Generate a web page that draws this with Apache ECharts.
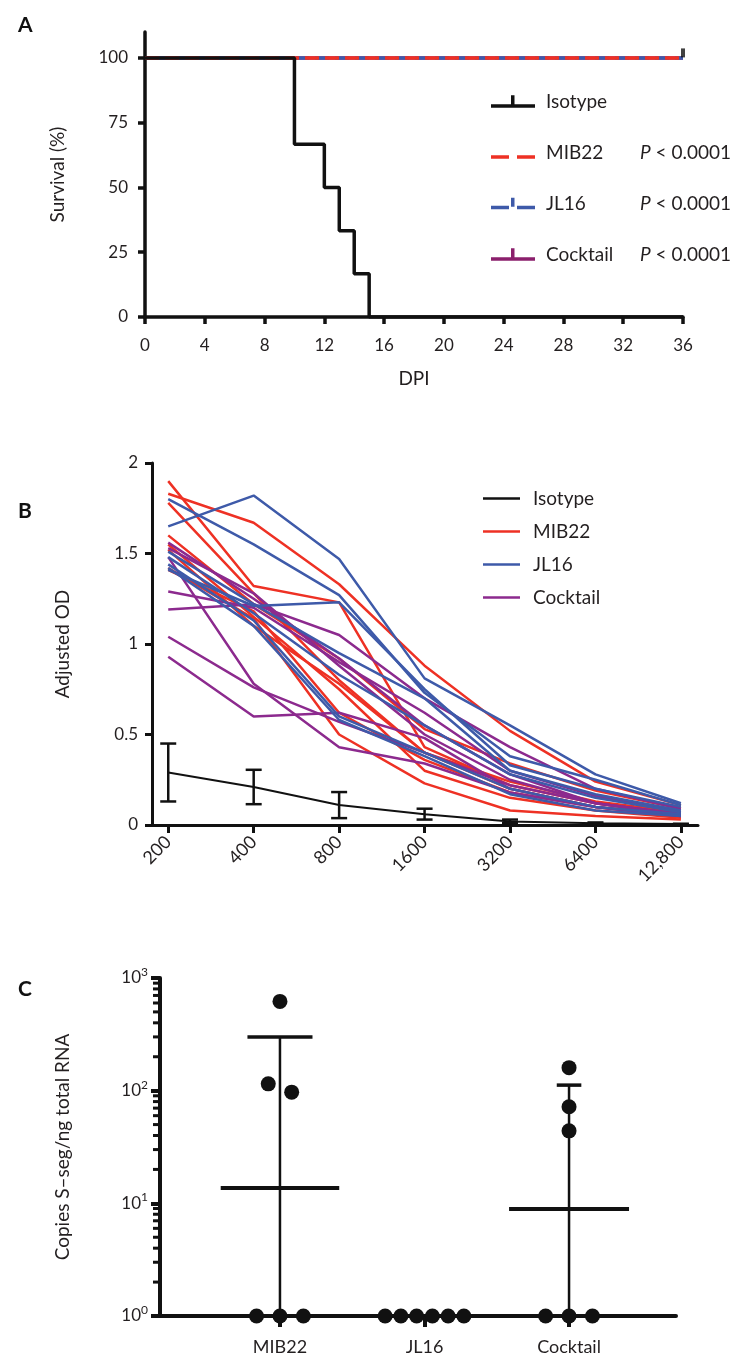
<!DOCTYPE html>
<html><head><meta charset="utf-8">
<script src="https://cdn.jsdelivr.net/npm/echarts@6/dist/echarts.min.js"></script>
<style>html,body{margin:0;padding:0;background:#fff}#c{width:731px;height:1361px}</style>
</head><body><div id="c"></div>
<script>
// ---------- Panel A : survival ----------
const groupNames = ['Isotype', 'MIB22', 'JL16', 'Cocktail'];
const pValues = ['', '< 0.0001', '< 0.0001', '< 0.0001'];
const isotypeDays = [0, 10, 12, 13, 14, 15, 36];
const isotypeSurvival = [100, 66.7, 50, 33.3, 16.7, 0, 0];
const treatedDays = [0, 36];
const mib22Survival = [100, 100];
const jl16Survival = [100, 100];
const cocktailSurvival = [100, 100];
const censorDays = [36];
const censorSurvival = [100];
const survivalTicks = [0, 25, 50, 75, 100];

// ---------- Panel B : ELISA titration ----------
const dilutionLabels = ['200', '400', '800', '1600', '3200', '6400', '12,800'];
const mib22OD = [
  [1.90, 1.32, 1.23, 0.43, 0.22, 0.12, 0.05],
  [1.83, 1.67, 1.33, 0.88, 0.52, 0.24, 0.11],
  [1.78, 1.28, 0.80, 0.40, 0.20, 0.10, 0.05],
  [1.60, 1.22, 0.92, 0.53, 0.34, 0.19, 0.09],
  [1.55, 1.15, 0.75, 0.30, 0.15, 0.08, 0.04],
  [1.52, 1.10, 0.78, 0.40, 0.24, 0.13, 0.07],
  [1.42, 1.14, 0.50, 0.23, 0.08, 0.05, 0.03],
  [1.41, 1.18, 0.62, 0.36, 0.18, 0.10, 0.05]
];
const jl16OD = [
  [1.65, 1.82, 1.47, 0.81, 0.55, 0.28, 0.12],
  [1.80, 1.55, 1.27, 0.73, 0.38, 0.25, 0.11],
  [1.41, 1.21, 1.23, 0.75, 0.33, 0.20, 0.10],
  [1.51, 1.22, 0.95, 0.70, 0.30, 0.17, 0.08],
  [1.48, 1.17, 0.83, 0.55, 0.28, 0.15, 0.07],
  [1.44, 1.13, 0.60, 0.40, 0.20, 0.10, 0.06],
  [1.42, 1.10, 0.58, 0.38, 0.17, 0.08, 0.05]
];
const cocktailOD = [
  [1.19, 1.22, 1.05, 0.70, 0.43, 0.20, 0.09],
  [1.29, 1.20, 0.90, 0.62, 0.30, 0.16, 0.07],
  [1.56, 1.25, 0.92, 0.55, 0.28, 0.12, 0.06],
  [1.53, 1.28, 0.88, 0.50, 0.25, 0.12, 0.06],
  [1.48, 0.78, 0.43, 0.34, 0.18, 0.10, 0.05],
  [1.04, 0.76, 0.57, 0.40, 0.22, 0.12, 0.06],
  [0.93, 0.60, 0.62, 0.48, 0.20, 0.10, 0.05]
];
const isotypeODMean = [0.29, 0.21, 0.11, 0.06, 0.02, 0.01, 0.005];
const isotypeODSD = [0.16, 0.095, 0.072, 0.03, 0.01, 0.004, 0.002];

// ---------- Panel C : viral RNA ----------
const rnaGroups = ['MIB22', 'JL16', 'Cocktail'];
const mib22Copies = [620, 115, 97, 1, 1, 1];
const jl16Copies = [1, 1, 1, 1, 1, 1];
const cocktailCopies = [160, 72, 44, 1, 1, 1];
const geoMeanCopies = [13.7, null, 8.9];
const sdUpperCopies = [300, null, 112];

// ---------- styling ----------
const FONT = "Lato, 'Open Sans', sans-serif";
const INK = '#111';
const TXT = '#231f20';
const RED = '#ee3124', BLUE = '#3e5aa9', PURPLE = '#8c2a8e', PURPLE_A = '#8b1f6c';

function axisBase(w, tickLen) {
  return {
    axisLine: { show: true, onZero: false, lineStyle: { color: INK, width: w } },
    axisTick: { show: true, length: tickLen, lineStyle: { color: INK, width: w } },
    axisLabel: { color: TXT, fontSize: 17, fontFamily: FONT },
    splitLine: { show: false },
    nameTextStyle: { color: TXT, fontSize: 19, fontFamily: FONT }
  };
}

// beeswarm-like horizontal spread of points with (nearly) equal values
function spread(values, idx) {
  const bins = [];
  values.forEach((v) => {
    const lv = Math.log10(v);
    let b = bins.find(bb => Math.abs(bb.lv - lv) < 0.15);
    if (!b) { b = { lv: lv, items: [] }; bins.push(b); }
    b.items.push(v);
  });
  const out = [];
  bins.forEach(b => {
    const n = b.items.length;
    const step = n > 3 ? 0.109 : 0.162;
    b.items.forEach((v, k) => out.push([idx + (k - (n - 1) / 2) * step, v]));
  });
  return out;
}

const series = [];
// Panel A series
series.push({ name: 'Cocktail', type: 'line', xAxisIndex: 0, yAxisIndex: 0, symbol: 'none', z: 2,
  data: treatedDays.map((d, i) => [d, cocktailSurvival[i]]),
  lineStyle: { color: PURPLE_A, width: 3.5 }, itemStyle: { color: PURPLE_A } });
series.push({ name: 'JL16', type: 'line', xAxisIndex: 0, yAxisIndex: 0, symbol: 'none', z: 3,
  data: treatedDays.map((d, i) => [d, jl16Survival[i]]),
  lineStyle: { color: BLUE, width: 3.5, type: [14, 6], dashOffset: 10 }, itemStyle: { color: BLUE } });
series.push({ name: 'MIB22', type: 'line', xAxisIndex: 0, yAxisIndex: 0, symbol: 'none', z: 4,
  data: treatedDays.map((d, i) => [d, mib22Survival[i]]),
  lineStyle: { color: RED, width: 3.5, type: [14, 6] }, itemStyle: { color: RED } });
series.push({ name: 'Isotype', type: 'line', step: 'end', xAxisIndex: 0, yAxisIndex: 0, symbol: 'none', z: 5,
  data: isotypeDays.map((d, i) => [d, isotypeSurvival[i]]),
  lineStyle: { color: INK, width: 3.5 }, itemStyle: { color: INK } });
series.push({ name: 'censor', type: 'scatter', xAxisIndex: 0, yAxisIndex: 0, z: 6,
  symbol: 'rect', symbolSize: [4, 9], symbolOffset: [0, -5],
  data: censorDays.map((d, i) => [d, censorSurvival[i]]), itemStyle: { color: INK } });

// Panel B series
function addODGroup(rows, name, color, z) {
  rows.forEach(r => series.push({ name: 'B:' + name, type: 'line', xAxisIndex: 1, yAxisIndex: 1,
    symbol: 'none', z: z, data: r.map((v, i) => [i, v]),
    lineStyle: { color: color, width: 2.5 }, itemStyle: { color: color } }));
}
addODGroup(mib22OD, 'MIB22', RED, 2);
addODGroup(cocktailOD, 'Cocktail', PURPLE, 3);
addODGroup(jl16OD, 'JL16', BLUE, 4);
series.push({ name: 'B:Isotype', type: 'line', xAxisIndex: 1, yAxisIndex: 1, symbol: 'none', z: 5,
  data: isotypeODMean.map((v, i) => [i, v]), lineStyle: { color: INK, width: 2 }, itemStyle: { color: INK } });
series.push({ name: 'isoErr', type: 'custom', xAxisIndex: 1, yAxisIndex: 1, z: 6,
  data: isotypeODMean.map((m, i) => [i, Math.max(m - isotypeODSD[i], 0), m + isotypeODSD[i]]),
  encode: { x: 0, y: [1, 2] },
  renderItem: (p, api) => {
    const x = api.value(0);
    const t = api.coord([x, api.value(2)]), b = api.coord([x, api.value(1)]);
    const cw = 8, st = { stroke: INK, lineWidth: 2.5 };
    return { type: 'group', children: [
      { type: 'line', shape: { x1: t[0], y1: t[1], x2: b[0], y2: b[1] }, style: st },
      { type: 'line', shape: { x1: t[0] - cw, y1: t[1], x2: t[0] + cw, y2: t[1] }, style: st },
      { type: 'line', shape: { x1: b[0] - cw, y1: b[1], x2: b[0] + cw, y2: b[1] }, style: st }
    ] };
  } });

// Panel C series
const C_XMIN = -0.83, C_XMAX = 2.74;
const meanHalf = [0.41, 0, 0.415];
const capHalf = [0.225, 0, 0.085];
series.push({ name: 'summary', type: 'custom', xAxisIndex: 2, yAxisIndex: 2, z: 3,
  data: geoMeanCopies.map((m, i) => m == null ? null : [i, m, sdUpperCopies[i]]).filter(d => d),
  encode: { x: 0, y: [1, 2] },
  renderItem: (p, api) => {
    const x = api.value(0), m = api.value(1), up = api.value(2);
    const lo = Math.max(m * m / up, 1);
    const t = api.coord([x, up]), b = api.coord([x, lo]);
    const ml = api.coord([x - meanHalf[x], m]), mr = api.coord([x + meanHalf[x], m]);
    const cl = api.coord([x - capHalf[x], up]), cr = api.coord([x + capHalf[x], up]);
    return { type: 'group', children: [
      { type: 'line', shape: { x1: t[0], y1: t[1], x2: b[0], y2: b[1] }, style: { stroke: INK, lineWidth: 2.5 } },
      { type: 'line', shape: { x1: cl[0], y1: cl[1], x2: cr[0], y2: cr[1] }, style: { stroke: INK, lineWidth: 3.5 } },
      { type: 'line', shape: { x1: ml[0], y1: ml[1], x2: mr[0], y2: mr[1] }, style: { stroke: INK, lineWidth: 4 } }
    ] };
  } });
[mib22Copies, jl16Copies, cocktailCopies].forEach((vals, gi) => {
  series.push({ name: 'C:' + rnaGroups[gi], type: 'scatter', xAxisIndex: 2, yAxisIndex: 2, z: 4,
    symbol: 'circle', symbolSize: 15, data: spread(vals, gi), itemStyle: { color: INK, opacity: 1 } });
});
// log minor ticks
const minorVals = [];
for (let d = 0; d < 3; d++) for (let k = 2; k <= 9; k++) minorVals.push(k * Math.pow(10, d));
series.push({ name: 'minorTicks', type: 'custom', xAxisIndex: 2, yAxisIndex: 2, z: 5, silent: true,
  data: minorVals.map(v => [C_XMIN, v]), encode: { x: 0, y: 1 },
  renderItem: (p, api) => {
    const c = api.coord([api.value(0), api.value(1)]);
    return { type: 'line', shape: { x1: c[0] - 7, y1: c[1], x2: c[0], y2: c[1] }, style: { stroke: INK, lineWidth: 3 } };
  } });

const tiny = 'M0,0 h0.01 v0.01 h-0.01 Z ';
const iconSolidTick = 'path://' + 'M0,9 h44 v3.5 h-44 Z M20,0 h3.5 v9 h-3.5 Z';
const iconDash = 'path://' + tiny + 'M0,9 h18 v3.5 h-18 Z M26,9 h18 v3.5 h-18 Z';
const iconDashTick = 'path://' + 'M0,9 h18 v3.5 h-18 Z M26,9 h18 v3.5 h-18 Z M20,1 h3.5 v9 h-3.5 Z';
const iconsA = [iconSolidTick, iconDash, iconDashTick, iconSolidTick];

const option = {
  backgroundColor: '#fff',
  animation: false,
  title: [
    { text: 'A', left: 13, top: 10, textStyle: { fontSize: 21, fontWeight: 'bold', fontFamily: FONT, color: INK } },
    { text: 'B', left: 13, top: 496, textStyle: { fontSize: 21, fontWeight: 'bold', fontFamily: FONT, color: INK } },
    { text: 'C', left: 13, top: 974, textStyle: { fontSize: 21, fontWeight: 'bold', fontFamily: FONT, color: INK } }
  ],
  grid: [
    { left: 145, top: 32, width: 538, height: 285 },
    { left: 152, top: 463, width: 546, height: 362 },
    { left: 160, top: 978, width: 516, height: 338 }
  ],
  legend: [
    { orient: 'vertical', left: 486, top: 87, itemWidth: 44, itemHeight: 12.5, itemGap: 32,
      data: groupNames.map((n, i) => ({ name: n, icon: iconsA[i] })),
      selectedMode: false,
      formatter: (name) => { const i = groupNames.indexOf(name);
        return pValues[i] ? '{n|' + name + '}{i|P}{v| ' + pValues[i] + '}' : '{n|' + name + '}'; },
      textStyle: { color: TXT, fontSize: 19, fontFamily: FONT, padding: [0, 0, 0, 6],
        rich: { n: { width: 94, fontSize: 19, fontFamily: FONT, color: TXT },
                i: { fontSize: 19, fontStyle: 'italic', fontFamily: FONT, color: TXT },
                v: { fontSize: 19, fontFamily: FONT, color: TXT } } } },
    { orient: 'vertical', left: 478, top: 484, itemWidth: 37, itemHeight: 2.5, itemGap: 14,
      data: groupNames.map(n => ({ name: 'B:' + n, icon: 'path://M0,0 h37 v2.5 h-37 Z' })),
      selectedMode: false,
      formatter: (name) => name.replace('B:', ''),
      textStyle: { color: TXT, fontSize: 19, fontFamily: FONT, padding: [0, 0, 0, 8] } }
  ],
  xAxis: [
    Object.assign(axisBase(3.5, 7), { gridIndex: 0, type: 'value', min: 0, max: 36, interval: 4,
      name: 'DPI', nameLocation: 'middle', nameGap: 52 }),
    Object.assign(axisBase(3, 8), { gridIndex: 1, type: 'value', min: -0.19, max: 6.2 }),
    Object.assign(axisBase(4, 11), { gridIndex: 2, type: 'value', min: C_XMIN, max: C_XMAX })
  ],
  yAxis: [
    Object.assign(axisBase(3.5, 7), { gridIndex: 0, type: 'value', min: 0, max: 110,
      name: 'Survival (%)', nameLocation: 'middle', nameGap: 78 }),
    Object.assign(axisBase(3, 7), { gridIndex: 1, type: 'value', min: 0, max: 2, interval: 0.5,
      name: 'Adjusted OD', nameLocation: 'middle', nameGap: 80 }),
    Object.assign(axisBase(4, 9), { gridIndex: 2, type: 'log', logBase: 10, min: 1, max: 1000,
      name: 'Copies S\u2013seg/ng total RNA', nameLocation: 'middle', nameGap: 88 })
  ],
  series: series
};
// axis tweaks
option.xAxis[0].axisLabel.margin = 20;
option.yAxis[0].axisTick.customValues = survivalTicks;
option.yAxis[0].axisLabel.customValues = survivalTicks;
option.yAxis[0].axisLabel.margin = 17;
option.xAxis[1].axisTick.customValues = dilutionLabels.map((d, i) => i);
option.xAxis[1].axisLabel.customValues = dilutionLabels.map((d, i) => i);
option.xAxis[1].axisLabel.formatter = (v) => dilutionLabels[Math.round(v)];
option.xAxis[1].axisLabel.rotate = 45;
option.xAxis[1].axisLabel.margin = 14;
option.xAxis[1].axisLabel.fontSize = 18;
option.yAxis[1].axisLabel.margin = 14;
option.xAxis[2].axisTick.customValues = rnaGroups.map((g, i) => i);
option.xAxis[2].axisLabel.customValues = rnaGroups.map((g, i) => i);
option.xAxis[2].axisLabel.formatter = (v) => rnaGroups[Math.round(v)];
option.xAxis[2].axisLabel.margin = 22;
option.xAxis[2].axisLabel.fontSize = 18;
option.yAxis[2].axisLabel.margin = 12;
option.yAxis[2].axisLabel.formatter = (v) => '{b|10}{s|' + Math.round(Math.log10(v)) + '}';
option.yAxis[2].axisLabel.rich = { b: { fontSize: 17, fontFamily: FONT, color: TXT },
  s: { fontSize: 12, fontFamily: FONT, color: TXT, padding: [0, 0, 12, 0] } };

const chart = echarts.init(document.getElementById('c'), null, { renderer: 'canvas' });
chart.setOption(option);
</script>
</body></html>
